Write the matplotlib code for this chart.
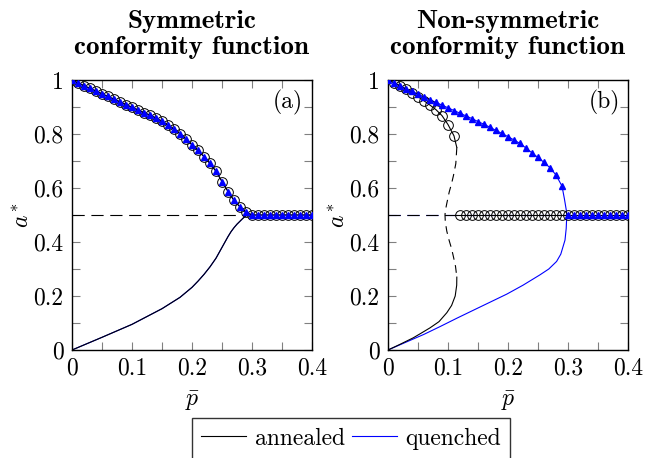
import numpy as np
import matplotlib
matplotlib.use("Agg")
import matplotlib.pyplot as plt
from matplotlib.ticker import MultipleLocator

plt.rcParams['font.family'] = 'cmr10'
plt.rcParams['mathtext.fontset'] = 'cm'
plt.rcParams['axes.formatter.use_mathtext'] = True
plt.rcParams['font.size'] = 17

# tick labels
xtick_vals = [0, 0.1, 0.2, 0.3, 0.4]
xtick_labels = ['0', '0.1', '0.2', '0.3', '0.4']
ytick_vals = [0, 0.2, 0.4, 0.6, 0.8, 1]
ytick_labels = ['0', '0.2', '0.4', '0.6', '0.8', '1']

# ---- (a) symmetric conformity function ----
p_sym = np.round(np.arange(0, 0.401, 0.01), 2)
a_sym = [1.000, 0.989, 0.979, 0.969, 0.959, 0.949, 0.939, 0.929, 0.919, 0.909,
         0.899, 0.889, 0.879, 0.870, 0.859, 0.847, 0.833, 0.818, 0.801, 0.781,
         0.760, 0.739, 0.716, 0.691, 0.662, 0.624, 0.587, 0.554, 0.530, 0.510,
         0.500, 0.500, 0.500, 0.500, 0.500, 0.500, 0.500, 0.500, 0.500, 0.500, 0.500]
p_sym_low = [0, 0.05, 0.10, 0.15, 0.18, 0.20, 0.21, 0.22, 0.23, 0.24, 0.245, 0.25,
             0.255, 0.26, 0.265, 0.27, 0.275, 0.28, 0.285, 0.29, 0.293]
a_sym_low = [0, 0.047, 0.095, 0.153, 0.195, 0.232, 0.255, 0.280, 0.308, 0.340, 0.360,
             0.380, 0.400, 0.420, 0.438, 0.453, 0.466, 0.477, 0.488, 0.497, 0.500]
p_sym_crit = 0.293

# ---- (b) non-symmetric conformity function ----
# annealed
p_ann_mark = [0.01, 0.02, 0.03, 0.04, 0.05, 0.06, 0.07, 0.08, 0.09, 0.10, 0.11]
a_ann_mark = [0.990, 0.978, 0.965, 0.951, 0.938, 0.923, 0.907, 0.890, 0.868, 0.835, 0.793]
p_ann_up = [0, 0.01, 0.02, 0.03, 0.04, 0.05, 0.06, 0.07, 0.08, 0.09, 0.10, 0.11, 0.113, 0.1147]
a_ann_up = [1.0, 0.990, 0.978, 0.965, 0.951, 0.938, 0.923, 0.907, 0.890, 0.868, 0.835, 0.793, 0.765, 0.75]
p_ann_unst = [0.1147, 0.113, 0.109, 0.106, 0.102, 0.098, 0.0955, 0.095, 0.0955, 0.098,
              0.102, 0.106, 0.109, 0.1125, 0.1147]
a_ann_unst = [0.75, 0.69, 0.645, 0.617, 0.585, 0.543, 0.515, 0.5, 0.475, 0.44,
              0.405, 0.375, 0.346, 0.31, 0.27]
p_ann_low = [0.1147, 0.1145, 0.112, 0.106, 0.098, 0.085, 0.07, 0.055, 0.042, 0.02, 0]
a_ann_low = [0.27, 0.24, 0.20, 0.165, 0.138, 0.105, 0.082, 0.062, 0.045, 0.021, 0]
p_ann_crit = 0.095
p_ann_flat = np.round(np.arange(0.12, 0.401, 0.01), 2)
a_ann_flat = [0.5] * len(p_ann_flat)

# quenched
p_q_mark = np.round(np.arange(0, 0.401, 0.01), 2)
a_q_mark = [1.000, 0.990, 0.979, 0.968, 0.958, 0.948, 0.937, 0.927, 0.917, 0.907,
            0.897, 0.887, 0.877, 0.867, 0.857, 0.846, 0.836, 0.825, 0.813, 0.802,
            0.790, 0.778, 0.765, 0.748, 0.730, 0.713, 0.695, 0.675, 0.648, 0.607,
            0.500, 0.500, 0.500, 0.500, 0.500, 0.500, 0.500, 0.500, 0.500, 0.500, 0.500]
p_q_tail = [0.29, 0.294, 0.297, 0.298]
a_q_tail = [0.607, 0.56, 0.52, 0.5]
p_q_low = [0.298, 0.297, 0.295, 0.288, 0.281, 0.268, 0.253, 0.225, 0.198, 0.17,
           0.142, 0.115, 0.087, 0.06, 0.031, 0]
a_q_low = [0.5, 0.45, 0.407, 0.355, 0.328, 0.30, 0.278, 0.24, 0.207, 0.177,
           0.147, 0.118, 0.087, 0.058, 0.03, 0]
p_q_crit = 0.298

lw = 0.8
dash = (0, (11, 6))
circ = dict(marker='o', ms=7, mfc='none', mec='black', mew=0.7, ls='none', zorder=4)
tri = dict(marker='^', ms=4.5, color='blue', ls='none', zorder=5)

fig = plt.figure(figsize=(6.57, 4.58), dpi=100)
ax1 = fig.add_axes([72 / 657, 108 / 458, 240 / 657, 270 / 458])
ax2 = fig.add_axes([388 / 657, 108 / 458, 240 / 657, 270 / 458])

# panel (a)
ax1.plot([0, p_sym_crit], [0.5, 0.5], color='black', lw=lw, ls=dash)
ax1.plot(p_sym, a_sym, color='blue', lw=lw)
ax1.plot(p_sym_low, a_sym_low, color='blue', lw=lw)
ax1.plot(p_sym, a_sym, color='black', lw=lw)
ax1.plot(p_sym_low, a_sym_low, color='black', lw=lw)
ax1.plot(p_sym, a_sym, **circ)
ax1.plot(p_sym, a_sym, **tri)

# panel (b) quenched
ax2.plot([0, p_q_crit], [0.5, 0.5], color='blue', lw=lw, ls=dash)
ax2.plot([p_q_crit, 0.4], [0.5, 0.5], color='blue', lw=lw)
ax2.plot(p_q_mark[:30], a_q_mark[:30], color='blue', lw=lw)
ax2.plot(p_q_tail, a_q_tail, color='blue', lw=lw)
ax2.plot(p_q_low, a_q_low, color='blue', lw=lw)
# panel (b) annealed
ax2.plot([0, p_ann_crit], [0.5, 0.5], color='black', lw=lw, ls=dash)
ax2.plot([p_ann_crit, 0.4], [0.5, 0.5], color='black', lw=lw)
ax2.plot(p_ann_up, a_ann_up, color='black', lw=lw)
ax2.plot(p_ann_unst, a_ann_unst, color='black', lw=lw, ls=(0, (7, 5)))
ax2.plot(p_ann_low, a_ann_low, color='black', lw=lw)
ax2.plot(p_ann_mark, a_ann_mark, **circ)
ax2.plot(p_ann_flat, a_ann_flat, **circ)
ax2.plot(p_q_mark, a_q_mark, **tri)

titles = ['Symmetric\nconformity function', 'Non-symmetric\nconformity function']
tags = ['(a)', '(b)']
for ax, t, tag in zip([ax1, ax2], titles, tags):
    ax.set_xlim(0, 0.4)
    ax.set_ylim(0, 1)
    ax.set_xticks(xtick_vals)
    ax.set_xticklabels(xtick_labels)
    ax.set_yticks(ytick_vals)
    ax.set_yticklabels(ytick_labels)
    ax.xaxis.set_minor_locator(MultipleLocator(0.05))
    ax.yaxis.set_minor_locator(MultipleLocator(0.1))
    ax.tick_params(which='both', direction='in', top=True, right=True,
                   length=6, width=0.8, color='0.5', labelsize=17)
    ax.tick_params(axis='x', pad=5)
    ax.tick_params(axis='y', pad=6)
    for s in ax.spines.values():
        s.set_linewidth(1.0)
    ax.set_xlabel(r'$\bar{p}$', fontsize=17, labelpad=7)
    ax.set_ylabel(r'$a^*$', fontsize=17, labelpad=0)
    ax.set_title(t, fontfamily='cmb10', fontsize=19.5, pad=19, linespacing=1.15)
    ax.text(0.9, 0.915, tag, transform=ax.transAxes, ha='center', va='center', fontsize=17)

h1, = ax1.plot([], [], color='black', lw=lw, label='annealed')
h2, = ax1.plot([], [], color='blue', lw=lw, label='quenched')
leg = fig.legend(handles=[h1, h2], loc='upper center', bbox_to_anchor=(351 / 657, 1 - 418 / 458),
                 ncol=2, frameon=True, fancybox=False, edgecolor='black', fontsize=17,
                 handlelength=1.9, handletextpad=0.35, columnspacing=0.3, borderpad=0.4,
                 borderaxespad=0)
leg.get_frame().set_linewidth(1.0)

fig.savefig('out.png', dpi=100)
